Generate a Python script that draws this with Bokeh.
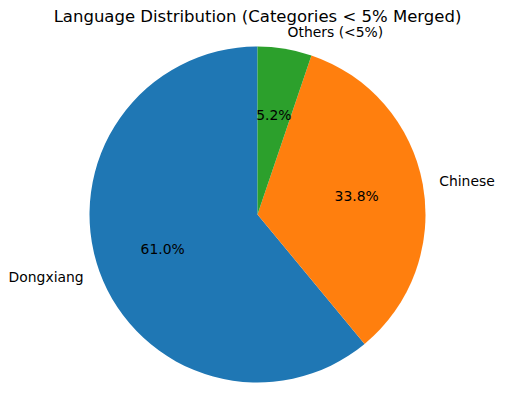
import math
from bokeh.plotting import figure
from bokeh.models import ColumnDataSource, Range1d
from bokeh.core.properties import value
from bokeh.embed import file_html
from bokeh.resources import INLINE

languages = ["Dongxiang", "Chinese", "Others (<5%)"]
shares = [61.0, 33.8, 5.2]
pct_labels = ["61.0%", "33.8%", "5.2%"]
colors = ["#1f77b4", "#ff7f0e", "#2ca02c"]
title_text = "Language Distribution (Categories < 5% Merged)"

R = 168.0
W, H = 497, 386
CX, CY = 257, 214  # pie centre in figure pixels

total = sum(shares)
starts, ends, mids = [], [], []
a = math.pi / 2
for s in shares:
    d = 2 * math.pi * s / total
    starts.append(a)
    ends.append(a + d)
    mids.append(a + d / 2)
    a += d

lx = [1.1 * R * math.cos(m) for m in mids]
ly = [1.1 * R * math.sin(m) for m in mids]
lalign = ["right" if x < 0 else "left" for x in lx]
px = [0.6 * R * math.cos(m) for m in mids]
py = [0.6 * R * math.sin(m) for m in mids]

src = ColumnDataSource(dict(lang=languages, share=shares, start=starts, end=ends,
                            color=colors, lx=lx, ly=ly, lalign=lalign,
                            px=px, py=py, pct=pct_labels))

p = figure(width=W, height=H, output_backend="svg", toolbar_location=None,
           x_range=Range1d(-CX, W - CX), y_range=Range1d(-(H - CY), CY),
           min_border=0)
p.axis.visible = False
p.grid.visible = False
p.outline_line_color = None

p.wedge(x=0, y=0, radius=R, start_angle="start", end_angle="end",
        direction="anticlock", fill_color="color", line_color=None, source=src)

p.text(x="lx", y="ly", text="lang", text_align="lalign", text_baseline="middle",
       text_font=value("DejaVu Sans"), text_font_size=value("13.9px"),
       text_color="black", source=src)
p.text(x="px", y="py", text="pct", text_align="center", text_baseline="middle",
       text_font=value("DejaVu Sans"), text_font_size=value("13.9px"),
       text_color="black", source=src)

# chart title
p.text(x=[0], y=[CY - 16], text=[title_text], text_align="center",
       text_baseline="middle", text_font=value("DejaVu Sans"),
       text_font_size=value("16.5px"), text_color="black")

open("out.html", "w").write(file_html(p, INLINE))
